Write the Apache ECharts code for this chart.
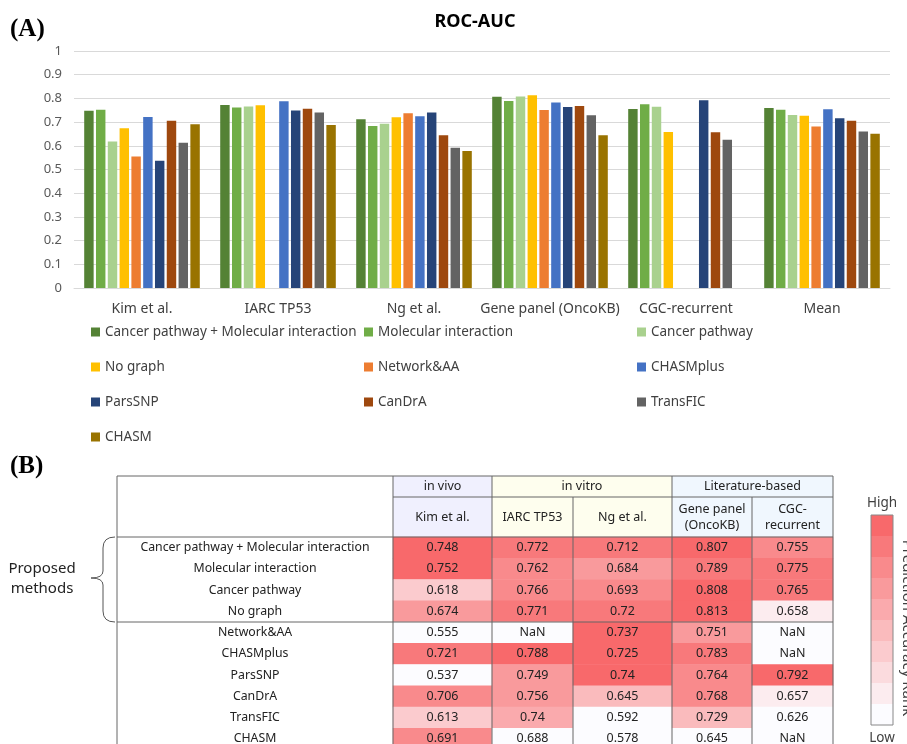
<!DOCTYPE html>
<html>
<head>
<meta charset="utf-8">
<script src="https://cdn.jsdelivr.net/npm/echarts@6/dist/echarts.min.js"></script>
<style>
  html, body { margin: 0; padding: 0; background: #fff; }
  #main { width: 907px; height: 744px; }
</style>
</head>
<body>
<div id="main"></div>
<script>
// methods (same order in bars, legend and table rows)
var methods = ['Cancer pathway + Molecular interaction', 'Molecular interaction', 'Cancer pathway', 'No graph',
  'Network&AA', 'CHASMplus', 'ParsSNP', 'CanDrA', 'TransFIC', 'CHASM'];
var methodColors = ['#548235', '#70AD47', '#A9D18E', '#FFC000', '#ED7D31', '#4472C4', '#264478', '#9E480E', '#636363', '#997300'];

var barCategories = ['Kim et al.', 'IARC TP53', 'Ng et al.', 'Gene panel (OncoKB)', 'CGC-recurrent', 'Mean'];
var tableHeaders = ['Kim et al.', 'IARC TP53', 'Ng et al.', 'Gene panel\n(OncoKB)', 'CGC-\nrecurrent'];
var groupHeaders = ['in vivo', 'in vitro', 'Literature-based'];

// ROC-AUC per dataset, null = NaN
var kim = [0.748, 0.752, 0.618, 0.674, 0.555, 0.721, 0.537, 0.706, 0.613, 0.691];
var iarc = [0.772, 0.762, 0.766, 0.771, null, 0.788, 0.749, 0.756, 0.74, 0.688];
var ng = [0.712, 0.684, 0.693, 0.72, 0.737, 0.725, 0.74, 0.645, 0.592, 0.578];
var genePanel = [0.807, 0.789, 0.808, 0.813, 0.751, 0.783, 0.764, 0.768, 0.729, 0.645];
var cgc = [0.755, 0.775, 0.765, 0.658, null, null, 0.792, 0.657, 0.626, null];
var mean = [0.759, 0.752, 0.73, 0.727, 0.681, 0.754, 0.716, 0.706, 0.66, 0.651];

var tableCols = [kim, iarc, ng, genePanel, cgc];
var barCols = [kim, iarc, ng, genePanel, cgc, mean];

// layout of table part
var colEdges = [393, 492, 573, 672, 752, 833];
var groupSpans = [[0, 1], [1, 3], [3, 5]];
var groupFills = ['#F0F0FE', '#FEFEEE', '#F0F7FE'];
var tblLeft = 117, tblTop = 476, hdrMid = 497, bodyTop = 537, rowH = 21.25;
var lineColor = '#666';
var font = 'Noto Sans';

var grids = [{ left: 74, right: 17, top: 51, height: 237, outerBoundsMode: 'none' }];
var xAxes = [{
  type: 'category', data: barCategories, gridIndex: 0,
  axisLine: { lineStyle: { color: '#D9D9D9' } }, axisTick: { show: false },
  axisLabel: { color: '#404040', fontSize: 14, margin: 14, interval: 0 }
}];
var yAxes = [{
  type: 'value', min: 0, max: 1, interval: 0.1, gridIndex: 0,
  axisLine: { show: false }, axisTick: { show: false },
  splitLine: { lineStyle: { color: '#D9D9D9' } },
  axisLabel: { color: '#595959', fontSize: 13, margin: 12 }
}];
var series = [];

methods.forEach(function (m, i) {
  series.push({
    type: 'bar', name: m, xAxisIndex: 0, yAxisIndex: 0,
    data: barCols.map(function (col) { return col[i] == null ? '-' : col[i]; }),
    barGap: '25%', barCategoryGap: '15%',
    itemStyle: { color: methodColors[i] }
  });
});

var heatIdx = [];
tableCols.forEach(function (col, c) {
  var vals = col.filter(function (v) { return v != null; });
  var lo = Math.min.apply(null, vals), hi = Math.max.apply(null, vals);
  grids.push({
    left: colEdges[c], width: colEdges[c + 1] - colEdges[c],
    top: bodyTop, height: rowH * methods.length, outerBoundsMode: 'none'
  });
  xAxes.push({
    type: 'category', data: [tableHeaders[c]], gridIndex: c + 1, position: 'top',
    axisLine: { show: false }, axisTick: { show: false }, splitLine: { show: false },
    axisLabel: { color: '#222', fontSize: 12.5, lineHeight: 16, verticalAlign: 'middle', margin: 20 }
  });
  yAxes.push({
    type: 'category', data: methods, inverse: true, gridIndex: c + 1,
    axisLine: { show: false }, axisTick: { show: false }, splitLine: { show: false },
    axisLabel: { show: c === 0, align: 'center', margin: colEdges[0] - (tblLeft + colEdges[0]) / 2, color: '#222', fontSize: 12.3 }
  });
  heatIdx.push(series.length);
  series.push({
    type: 'heatmap', xAxisIndex: c + 1, yAxisIndex: c + 1,
    data: col.map(function (v, r) {
      return { value: [0, r, v == null ? 0 : v, v == null ? 0 : (v - lo) / (hi - lo)], txt: v == null ? 'NaN' : String(v) };
    }),
    label: { show: true, color: '#222', fontSize: 12.5, formatter: function (p) { return p.data.txt; } },
    emphasis: { disabled: true }
  });
});

var graphics = [
  { type: 'text', x: 10, y: 30, style: { text: '(A)', font: 'bold 25px "Liberation Serif"', fill: '#000', verticalAlign: 'middle' } },
  { type: 'text', x: 10, y: 467, style: { text: '(B)', font: 'bold 25px "Liberation Serif"', fill: '#000', verticalAlign: 'middle' } }
];
groupSpans.forEach(function (s, g) {
  var x0 = colEdges[s[0]], x1 = colEdges[s[1]];
  graphics.push({ type: 'rect', z: -1, shape: { x: x0, y: tblTop, width: x1 - x0, height: bodyTop - tblTop }, style: { fill: groupFills[g] } });
  graphics.push({ type: 'text', z: 10, x: (x0 + x1) / 2, y: (tblTop + hdrMid) / 2,
    style: { text: groupHeaders[g], align: 'center', verticalAlign: 'middle', font: '12.5px "Noto Sans"', fill: '#222' } });
});
function hline(y, x0, x1) { graphics.push({ type: 'line', z: 100, shape: { x1: x0, y1: y, x2: x1, y2: y }, style: { stroke: lineColor, lineWidth: 1 } }); }
function vline(x, y0, y1) { graphics.push({ type: 'line', z: 100, shape: { x1: x, y1: y0, x2: x, y2: y1 }, style: { stroke: lineColor, lineWidth: 1 } }); }
hline(tblTop, tblLeft, colEdges[5]);
hline(hdrMid, colEdges[0], colEdges[5]);
hline(bodyTop, tblLeft, colEdges[5]);
hline(bodyTop + rowH * 4, tblLeft, colEdges[5]);
vline(tblLeft, tblTop, 744);
[0, 1, 3, 5].forEach(function (k) { vline(colEdges[k], tblTop, 744); });
[2, 4].forEach(function (k) { vline(colEdges[k], hdrMid, 744); });

// brace + label
function curve(x1, y1, cx, cy, x2, y2) {
  graphics.push({ type: 'bezierCurve', z: 10, shape: { x1: x1, y1: y1, cpx1: cx, cpy1: cy, x2: x2, y2: y2 }, style: { stroke: '#555', fill: null, lineWidth: 1 } });
}
curve(115, 537, 103, 537, 103, 548);
curve(103, 571, 103, 578, 91, 578);
curve(91, 578, 103, 578, 103, 585);
curve(103, 611, 103, 622, 115, 622);
graphics.push({ type: 'line', z: 10, shape: { x1: 103, y1: 548, x2: 103, y2: 571 }, style: { stroke: '#555', lineWidth: 1 } });
graphics.push({ type: 'line', z: 10, shape: { x1: 103, y1: 585, x2: 103, y2: 611 }, style: { stroke: '#555', lineWidth: 1 } });
graphics.push({ type: 'text', x: 42, y: 579, style: { text: 'Proposed\nmethods', align: 'center', verticalAlign: 'middle', lineHeight: 20, font: '15px "Noto Sans"', fill: '#222' } });

// colour bar frame, end labels and side title
graphics.push({ type: 'rect', z: 100, shape: { x: 871, y: 515, width: 22, height: 210 }, style: { fill: null, stroke: '#888', lineWidth: 1 } });
graphics.push({ type: 'text', x: 882, y: 503, style: { text: 'High', align: 'center', verticalAlign: 'middle', font: '13.5px "Noto Sans"', fill: '#404040' } });
graphics.push({ type: 'text', x: 882, y: 738, style: { text: 'Low', align: 'center', verticalAlign: 'middle', font: '13.5px "Noto Sans"', fill: '#404040' } });
graphics.push({ type: 'text', x: 907, y: 628, rotation: -Math.PI / 2,
  style: { text: 'Prediction Accuracy Rank', align: 'center', verticalAlign: 'middle', font: '15px "Noto Sans"', fill: '#404040' } });

var legends = methods.map(function (m, i) {
  var legCols = [91, 364, 637];
  return {
    data: [m], left: legCols[i % 3], top: 325 + 35 * Math.floor(i / 3), padding: 0,
    itemWidth: 9, itemHeight: 9, itemGap: 5, icon: 'rect', selectedMode: false,
    textStyle: { color: '#404040', fontSize: 13.5, fontFamily: font }
  };
});

var option = {
  animation: false,
  textStyle: { fontFamily: font },
  title: { text: 'ROC-AUC', left: 470, top: 8, textAlign: 'center', textStyle: { fontSize: 18, fontWeight: 'bold', color: '#000', fontFamily: font } },
  legend: legends,
  grid: grids,
  xAxis: xAxes,
  yAxis: yAxes,
  visualMap: {
    type: 'piecewise', seriesIndex: heatIdx, dimension: 3, min: 0, max: 1, splitNumber: 10,
    inRange: { color: ['#FCFCFF', '#F8696B'] },
    orient: 'vertical', left: 871, top: 515, padding: 0,
    itemWidth: 22, itemHeight: 21, itemGap: 0, itemSymbol: 'rect', selectedMode: false,
    showLabel: false
  },
  graphic: graphics,
  series: series
};

var myChart = echarts.init(document.getElementById('main'));
myChart.setOption(option);
</script>
</body>
</html>
